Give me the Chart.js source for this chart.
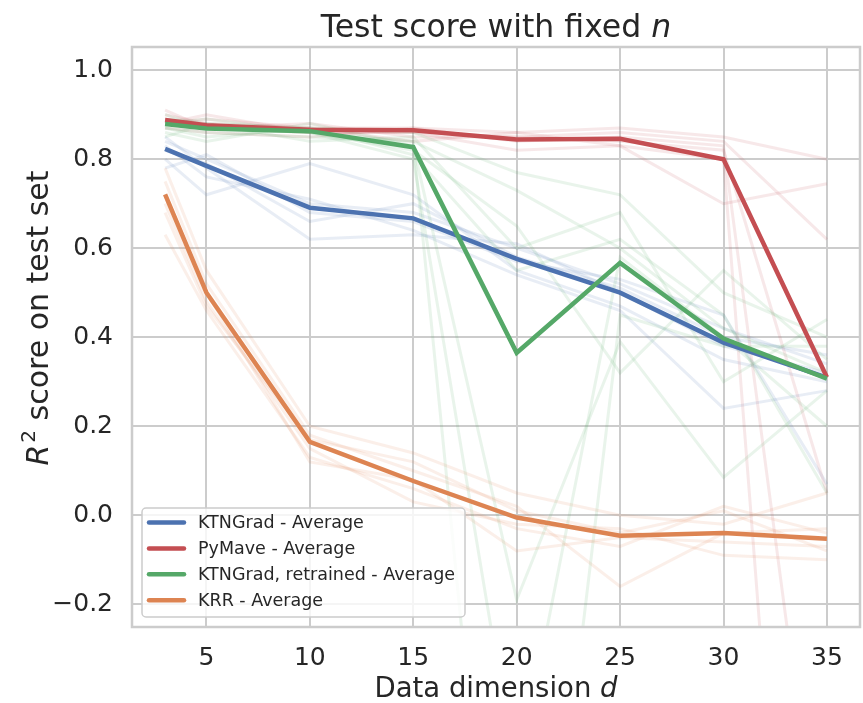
<!DOCTYPE html>
<html><head><meta charset="utf-8">
<script src="https://cdn.jsdelivr.net/npm/chart.js@4.4.0/dist/chart.umd.min.js"></script>
<style>html,body{margin:0;padding:0;background:#fff;}#wrap{width:863px;height:703px;}</style>
</head><body><div id="wrap"><canvas id="c" width="863" height="703"></canvas></div>
<script>
// ---- data ----
const dims = [3, 5, 10, 15, 20, 25, 30, 35];
const xTicks = [5, 10, 15, 20, 25, 30, 35];
const yTicks = [-0.2, 0.0, 0.2, 0.4, 0.6, 0.8, 1.0];

const labels = ["KTNGrad - Average", "PyMave - Average", "KTNGrad, retrained - Average", "KRR - Average"];

const ktnAvg = [0.823, 0.785, 0.691, 0.667, 0.576, 0.500, 0.388, 0.309];
const pymaveAvg = [0.888, 0.876, 0.866, 0.865, 0.844, 0.846, 0.800, 0.310];
const retrainedAvg = [0.879, 0.869, 0.863, 0.827, 0.365, 0.567, 0.397, 0.307];
const krrAvg = [0.721, 0.500, 0.165, 0.077, -0.005, -0.046, -0.040, -0.053];

const ktnRuns = [
  [0.84, 0.80, 0.70, 0.68, 0.60, 0.52, 0.42, 0.34],
  [0.80, 0.72, 0.79, 0.72, 0.55, 0.47, 0.35, 0.30],
  [0.85, 0.78, 0.62, 0.63, 0.61, 0.50, 0.38, 0.32],
  [0.78, 0.81, 0.68, 0.66, 0.57, 0.53, 0.45, 0.07],
  [0.83, 0.76, 0.71, 0.64, 0.54, 0.46, 0.24, 0.28],
  [0.82, 0.79, 0.66, 0.70, 0.58, 0.51, 0.40, 0.36]
];
const pymaveRuns = [
  [0.90, 0.88, 0.87, 0.87, 0.86, 0.87, 0.85, 0.80],
  [0.88, 0.90, 0.86, 0.86, 0.82, 0.83, 0.70, 0.745],
  [0.91, 0.87, 0.88, 0.85, 0.85, 0.86, 0.84, 0.62],
  [0.87, 0.86, 0.85, 0.87, 0.84, 0.85, 0.83, -0.93],
  [0.88, 0.89, 0.87, 0.84, 0.86, 0.83, 0.80, -2.2],
  [0.89, 0.87, 0.86, 0.86, 0.85, 0.84, 0.82, 0.05]
];
const retrainedRuns = [
  [0.89, 0.88, 0.87, 0.86, 0.77, 0.72, 0.50, 0.40],
  [0.87, 0.86, 0.85, 0.84, 0.73, 0.60, 0.42, 0.32],
  [0.88, 0.89, 0.86, 0.82, 0.65, 0.32, 0.55, 0.35],
  [0.86, 0.84, 0.88, 0.83, -0.19, 0.39, 0.085, 0.28],
  [0.90, 0.87, 0.86, 0.80, -0.60, 0.58, 0.40, 0.20],
  [0.85, 0.88, 0.84, 0.85, 0.60, 0.68, 0.30, 0.44],
  [0.87, 0.85, 0.87, 0.81, 0.55, 0.62, 0.45, 0.05],
  [0.88, 0.87, 0.86, 0.84, -1.5, 0.45, 0.38, 0.38]
];
const krrRuns = [
  [0.78, 0.55, 0.20, 0.14, 0.05, 0.00, -0.02, 0.05],
  [0.63, 0.46, 0.13, 0.06, -0.03, -0.07, 0.02, -0.04],
  [0.75, 0.52, 0.18, 0.10, 0.02, -0.16, -0.04, -0.03],
  [0.70, 0.48, 0.15, 0.03, -0.02, -0.03, -0.09, -0.10],
  [0.72, 0.50, 0.12, 0.08, -0.08, -0.05, -0.06, -0.07],
  [0.68, 0.47, 0.17, 0.12, 0.01, -0.04, 0.01, -0.08]
];

// ---- styles ----
const colors = ["#4C72B0", "#C44E52", "#55A868", "#DD8452"];
const faint = ["rgba(76,114,176,0.13)", "rgba(196,78,82,0.13)", "rgba(85,168,104,0.13)", "rgba(221,132,82,0.13)"];
const FONT = "'DejaVu Sans', sans-serif";
const TEXT = "#262626";

function pts(arr) { return dims.map((d, i) => ({ x: d, y: arr[i] })); }

const datasets = [];
const avgs = [ktnAvg, pymaveAvg, retrainedAvg, krrAvg];
const runs = [ktnRuns, pymaveRuns, retrainedRuns, krrRuns];
runs.forEach((group, g) => {
  group.forEach(r => datasets.push({
    label: "", data: pts(r), borderColor: faint[g], borderWidth: 3,
    pointRadius: 0, fill: false, clip: 0, order: 20 - g, tension: 0
  }));
});
avgs.forEach((a, g) => datasets.push({
  label: labels[g], data: pts(a), borderColor: colors[g], borderWidth: 4.5,
  pointRadius: 0, fill: false, clip: 0, order: 4 - g, tension: 0,
  borderCapStyle: 'butt', borderJoinStyle: 'miter'
}));

const decor = {
  id: 'decor',
  afterDraw(chart) {
    const ctx = chart.ctx, ca = chart.chartArea;
    ctx.save();
    // frame
    ctx.strokeStyle = '#cccccc'; ctx.lineWidth = 2.5;
    ctx.strokeRect(ca.left, ca.top, ca.right - ca.left, ca.bottom - ca.top);
    // title
    ctx.fillStyle = TEXT; ctx.textBaseline = 'alphabetic'; ctx.textAlign = 'left';
    const cx = (ca.left + ca.right) / 2;
    const tA = "Test score with fixed ", tB = "n";
    ctx.font = "31.5px " + FONT; const wA = ctx.measureText(tA).width;
    ctx.font = "italic 31.5px " + FONT; const wB = ctx.measureText(tB).width;
    let x0 = cx - (wA + wB) / 2;
    ctx.font = "31.5px " + FONT; ctx.fillText(tA, x0, 37);
    ctx.font = "italic 31.5px " + FONT; ctx.fillText(tB, x0 + wA, 37);
    // x label
    const xA = "Data dimension ", xB = "d";
    ctx.font = "27.5px " + FONT; const wxA = ctx.measureText(xA).width;
    ctx.font = "italic 27.5px " + FONT; const wxB = ctx.measureText(xB).width;
    x0 = cx - (wxA + wxB) / 2;
    ctx.font = "27.5px " + FONT; ctx.fillText(xA, x0, 697);
    ctx.font = "italic 27.5px " + FONT; ctx.fillText(xB, x0 + wxA, 697);
    // y label (rotated)
    ctx.translate(48, 318); ctx.rotate(-Math.PI / 2);
    const yA = "R", yB = "2", yC = " score on test set";
    ctx.font = "italic 30px " + FONT; const wyA = ctx.measureText(yA).width;
    ctx.font = "20px " + FONT; const wyB = ctx.measureText(yB).width;
    ctx.font = "30px " + FONT; const wyC = ctx.measureText(yC).width;
    x0 = -(wyA + wyB + 2 + wyC) / 2;
    ctx.font = "italic 30px " + FONT; ctx.fillText(yA, x0, 0);
    ctx.font = "20px " + FONT; ctx.fillText(yB, x0 + wyA + 2, -13);
    ctx.font = "30px " + FONT; ctx.fillText(yC, x0 + wyA + 2 + wyB, 0);
    ctx.setTransform(1, 0, 0, 1, 0, 0);
    // legend
    const lx = 142, ly = 508, lw = 323, lh = 109, r = 4;
    ctx.beginPath();
    ctx.moveTo(lx + r, ly); ctx.lineTo(lx + lw - r, ly); ctx.arcTo(lx + lw, ly, lx + lw, ly + r, r);
    ctx.lineTo(lx + lw, ly + lh - r); ctx.arcTo(lx + lw, ly + lh, lx + lw - r, ly + lh, r);
    ctx.lineTo(lx + r, ly + lh); ctx.arcTo(lx, ly + lh, lx, ly + lh - r, r);
    ctx.lineTo(lx, ly + r); ctx.arcTo(lx, ly, lx + r, ly, r); ctx.closePath();
    ctx.fillStyle = 'rgba(255,255,255,0.8)'; ctx.fill();
    ctx.strokeStyle = '#cccccc'; ctx.lineWidth = 1.5; ctx.stroke();
    ctx.font = "17.5px " + FONT; ctx.textBaseline = 'middle'; ctx.textAlign = 'left';
    labels.forEach((lab, i) => {
      const yy = 522.5 + i * 25.9;
      ctx.strokeStyle = colors[i]; ctx.lineWidth = 4.5; ctx.lineCap = 'round';
      ctx.beginPath(); ctx.moveTo(149, yy); ctx.lineTo(184, yy); ctx.stroke();
      ctx.fillStyle = TEXT; ctx.fillText(lab, 198, yy + 1);
    });
    ctx.restore();
  }
};

new Chart(document.getElementById('c'), {
  type: 'line',
  data: { datasets },
  options: {
    responsive: false, animation: false, devicePixelRatio: 1,
    layout: { padding: { left: 0, right: 3, top: 47, bottom: 0 } },
    plugins: { legend: { display: false }, title: { display: false }, tooltip: { enabled: false } },
    scales: {
      x: {
        type: 'linear', min: 1.4, max: 36.6,
        afterBuildTicks: s => { s.ticks = xTicks.map(v => ({ value: v })); },
        afterFit: s => { s.height = 76; },
        grid: { color: '#cccccc', lineWidth: 2, drawTicks: false },
        border: { display: false },
        ticks: { color: TEXT, font: { family: FONT, size: 25 }, padding: 16, maxRotation: 0, autoSkip: false,
          callback: v => String(v) }
      },
      y: {
        type: 'linear', min: -0.251, max: 1.052,
        afterBuildTicks: s => { s.ticks = yTicks.map(v => ({ value: v })); },
        afterFit: s => { s.width = 132; },
        grid: { color: '#cccccc', lineWidth: 2, drawTicks: false },
        border: { display: false },
        ticks: { color: TEXT, font: { family: FONT, size: 25 }, padding: 19, autoSkip: false,
          callback: v => (v < 0 ? "\u2212" : "") + Math.abs(v).toFixed(1) }
      }
    }
  },
  plugins: [decor]
});
</script>
</body></html>
